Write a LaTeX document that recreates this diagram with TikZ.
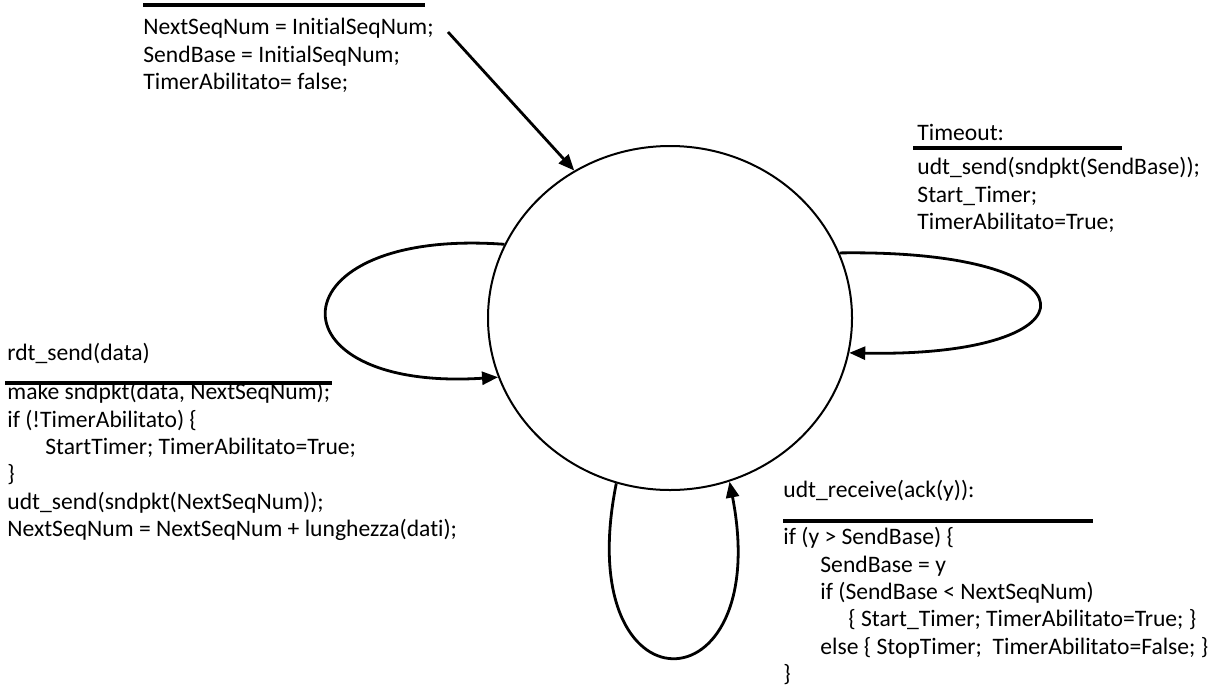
\documentclass[tikz,border=0pt]{standalone}
\usepackage{fontspec}
\setmainfont{Carlito}[Ligatures=NoCommon]
\usetikzlibrary{arrows.meta, shapes.geometric}

\begin{document}
\begin{tikzpicture}[x=0.5pt, y=-0.5pt,
    state/.style={ellipse, draw, line width=1pt, minimum width=182pt, minimum height=172pt, inner sep=0pt},
    event/.style={anchor=base west, inner sep=0pt, font=\fontsize{11.8}{13.7}\selectfont},
    code/.style={anchor=north west, inner sep=0pt, align=left, font=\fontsize{11.8}{13.7}\selectfont, execute at begin node=\strut},
    guard/.style={line width=2pt},
    trans/.style={-{Triangle[length=8pt, width=6.5pt]}, line width=1.4pt}
  ]
  \useasboundingbox (0,0) rectangle (1229,691);

  \node[state] (S) at (670,318) {};

  % initial transition
  \coordinate (init) at (448,32);
  \draw[guard] (143,5) -- (425,5);
  \node[code] (initAct) at (143,18) {NextSeqNum = InitialSeqNum;\\SendBase = InitialSeqNum;\\TimerAbilitato= false;};
  \draw[trans] (init) -- (S.123);

  % timeout
  \node[event] (toEv) at (917,140) {Timeout:};
  \draw[guard] (913,148) -- (1122,148);
  \node[code] (toAct) at (917,157) {udt\_send(sndpkt(SendBase));\\Start\_Timer;\\TimerAbilitato=True;};
  \draw[trans] (S.21) .. controls +(264,-4) and +(254,5) .. (S.-11);

  % rdt_send
  \node[event] (sendEv) at (7,360) {rdt\_send(data)};
  \draw[guard] (5,383) -- (332,383);
  \node[code] (sendAct) at (7,382) {make sndpkt(data, NextSeqNum);\\if (!TimerAbilitato) \{\\\hspace*{19pt}StartTimer; TimerAbilitato=True;\\\}\\udt\_send(sndpkt(NextSeqNum));\\NextSeqNum = NextSeqNum + lunghezza(dati);};
  \draw[trans] (S.156) .. controls +(-232,-17) and +(-232,15) .. (S.199);

  % udt_receive
  \node[event] (ackEv) at (783,497) {udt\_receive(ack(y)):};
  \draw[guard] (783,521) -- (1093,521);
  \node[code] (ackAct) at (783,527) {if (y > SendBase) \{\\\hspace*{18.5pt}SendBase = y\\\hspace*{18.5pt}if (SendBase < NextSeqNum)\\\hspace*{32.5pt}\{ Start\_Timer; TimerAbilitato=True; \}\\\hspace*{18.5pt}else \{ StopTimer;\ \ TimerAbilitato=False; \}\\\}};
  \draw[trans] (S.252) .. controls +(-47,234) and +(45,231) .. (S.290);
\end{tikzpicture}
\end{document}
